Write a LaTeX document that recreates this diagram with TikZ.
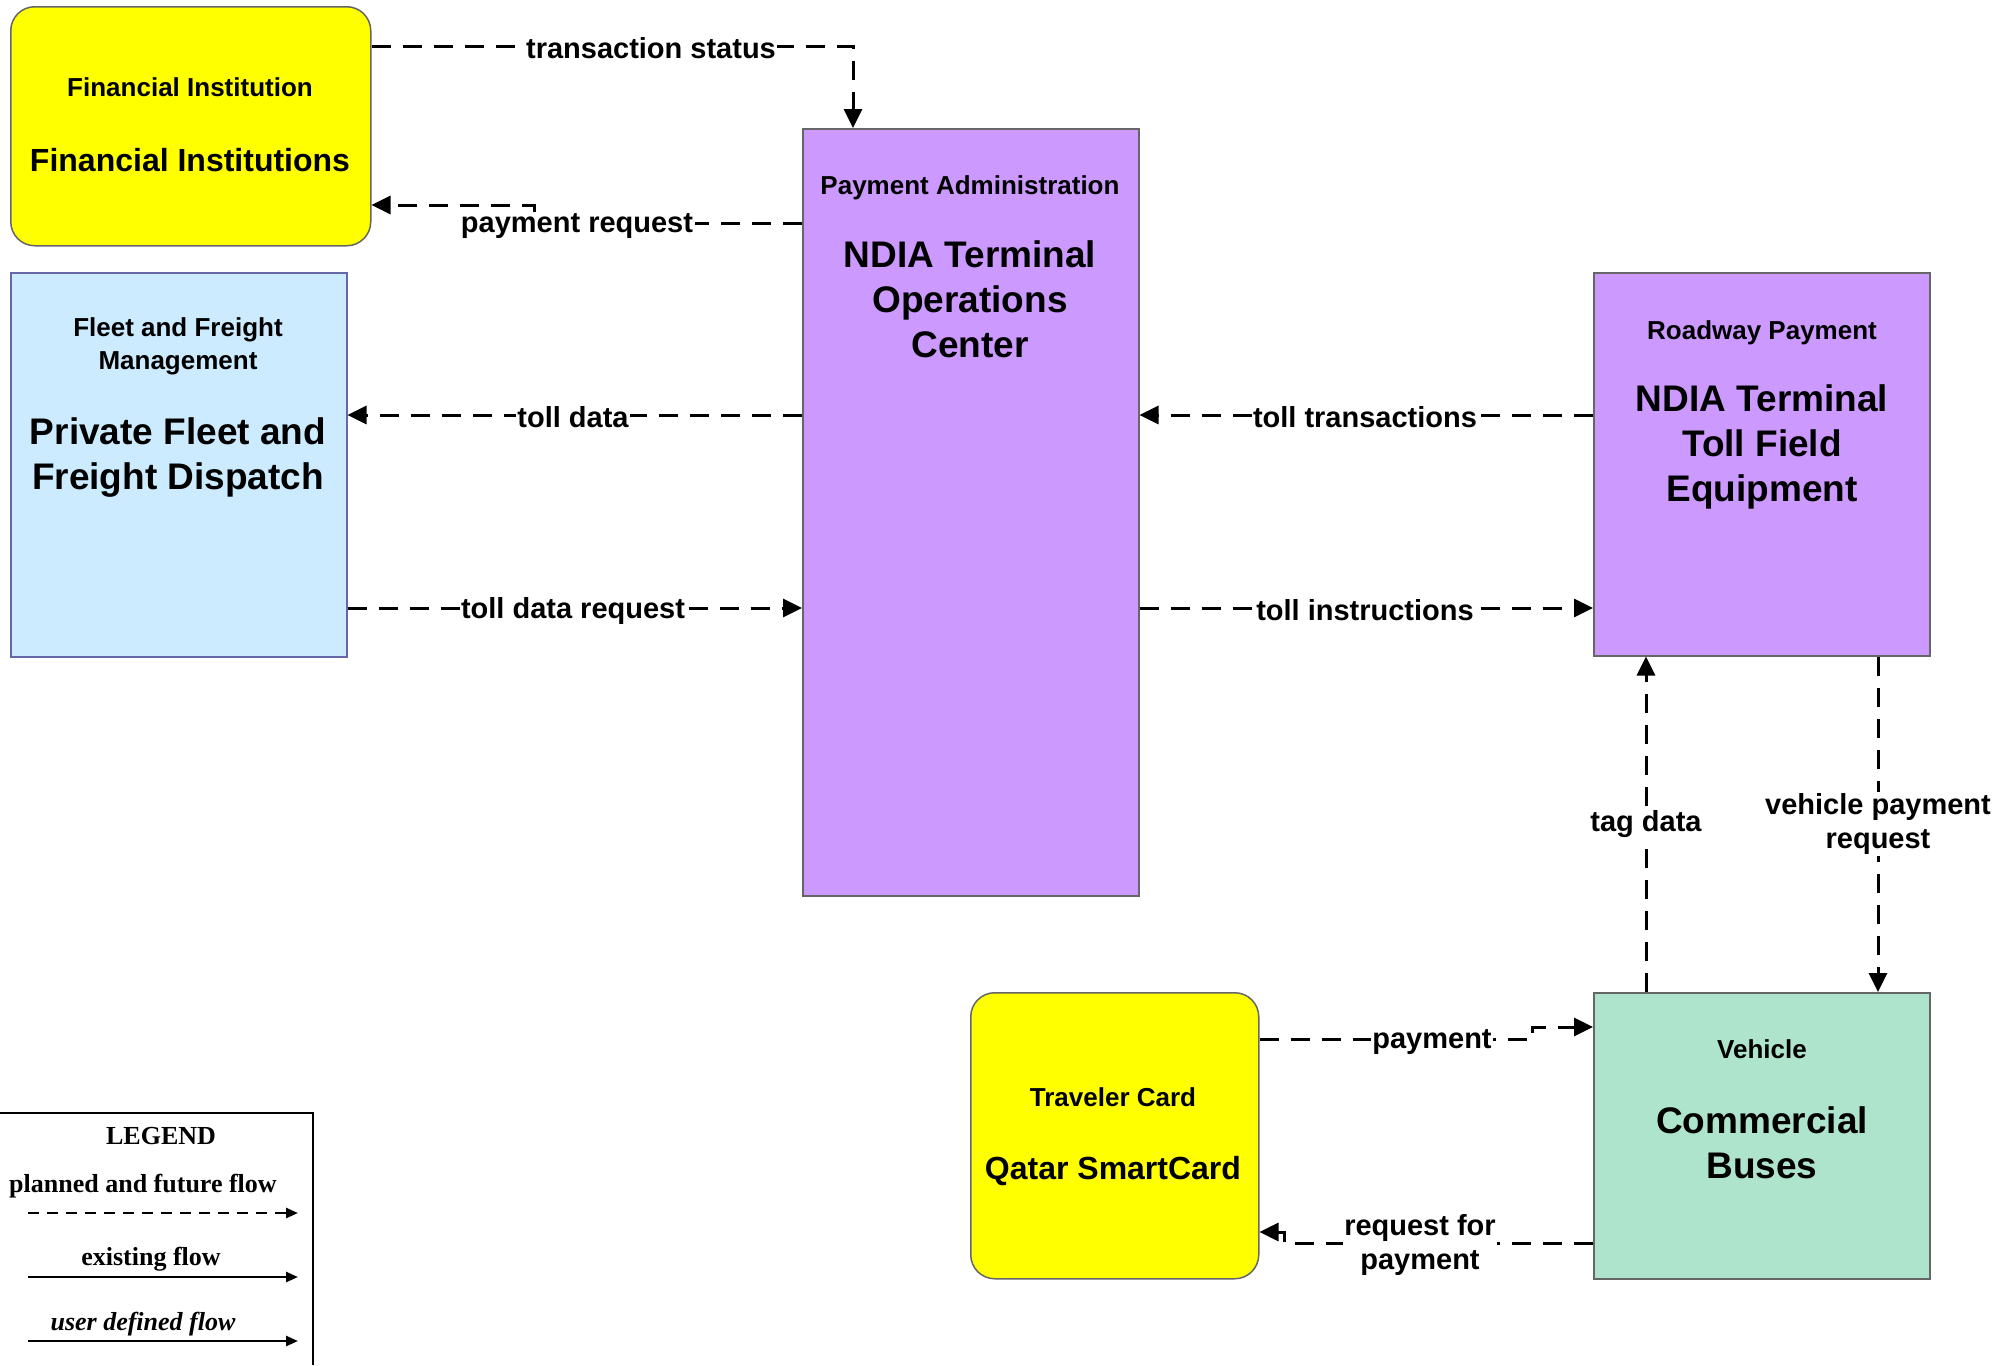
\documentclass[tikz,border=0pt]{standalone}
\usepackage{fontspec}
\setmainfont{Liberation Sans}
\newfontfamily\legfont{Liberation Serif}
\usetikzlibrary{arrows.meta,calc}
\definecolor{fiyellow}{HTML}{FFFF00}
\definecolor{fleetblue}{HTML}{CCEBFF}
\definecolor{ndiapurple}{HTML}{CC99FF}
\definecolor{vehgreen}{HTML}{AEE4CB}
\begin{document}
\begin{tikzpicture}[x=1pt,y=-1pt,
 box/.style={draw=black!60, line width=1.5pt, anchor=north west, inner sep=0pt},
 flow/.style={line width=3pt, dash pattern=on 19pt off 12pt, -{Triangle[length=19pt,width=18pt]}},
 lbl/.style={fill=white, inner sep=1.5pt, font=\fontsize{29}{34}\selectfont\bfseries, align=center},
 smalltxt/.style={font=\fontsize{26}{33}\selectfont\bfseries, align=center},
 bigtxt/.style={font=\fontsize{37}{45}\selectfont\bfseries, align=center},
 midtxt/.style={font=\fontsize{32}{40}\selectfont\bfseries, align=center},
 legtxt/.style={font=\legfont\fontsize{26}{30}\selectfont\bfseries, inner sep=0pt},
 legarrow/.style={line width=2.5pt, -{Triangle[length=12pt,width=10pt]}},
]
\useasboundingbox (0,0) rectangle (2002,1365);

% boxes
\node[box, fill=fiyellow, rounded corners=24pt, minimum width=360pt, minimum height=239pt] (fi) at (10,6) {};
\node[box, fill=fleetblue, draw=black!55!blue!60, minimum width=336pt, minimum height=384pt] (fleet) at (10,272) {};
\node[box, fill=ndiapurple, minimum width=336pt, minimum height=767pt] (pa) at (802,128) {};
\node[box, fill=ndiapurple, minimum width=336pt, minimum height=383pt] (rw) at (1593,272) {};
\node[box, fill=fiyellow, rounded corners=24pt, minimum width=288pt, minimum height=286pt] (tc) at (970,992) {};
\node[box, fill=vehgreen, minimum width=336pt, minimum height=286pt] (veh) at (1593,992) {};

% box texts
\node[smalltxt] (fit1) at (190,87) {Financial Institution};
\node[midtxt] (fit2) at (190,160) {Financial Institutions};
\node[smalltxt] (flt1) at (178,346) {Fleet and Freight\\Management};
\node[bigtxt] (flt2) at (178,458) {Private Fleet and\\Freight Dispatch};
\node[smalltxt] (pat1) at (970,188) {Payment Administration};
\node[bigtxt] (pat2) at (970,299) {NDIA Terminal\\Operations\\Center};
\node[smalltxt] (rwt1) at (1762,333) {Roadway Payment};
\node[bigtxt] (rwt2) at (1762,447) {NDIA Terminal\\Toll Field\\Equipment};
\node[smalltxt] (tct1) at (1113,1097) {Traveler Card};
\node[midtxt] (tct2) at (1113,1171) {Qatar SmartCard};
\node[smalltxt] (vht1) at (1762,1049) {Vehicle};
\node[bigtxt] (vht2) at (1762,1143) {Commercial\\Buses};

% connectors
\draw[flow] ($(fi.north east)+(0,40)$) -| ($(pa.north west)+(51,0)$);
\draw[flow] ($(pa.north west)+(0,95)$) -- (534,223) -- (534,205) -- ($(fi.north east)+(0,199)$);
\draw[flow] ($(pa.north west)+(0,287)$) -- ($(fleet.north east)+(0,143)$);
\draw[flow] ($(fleet.north east)+(0,336)$) -- ($(pa.north west)+(0,480)$);
\draw[flow] ($(rw.north west)+(0,143)$) -- ($(pa.north east)+(0,287)$);
\draw[flow] ($(pa.north east)+(0,480)$) -- ($(rw.north west)+(0,336)$);
\draw[flow] ($(veh.north west)+(53,0)$) -- ($(rw.south west)+(53,0)$);
\draw[flow] ($(rw.south west)+(285,0)$) -- ($(veh.north west)+(285,0)$);
\draw[flow] ($(tc.north east)+(0,47)$) -- (1532,1039) -- (1532,1027) -- ($(veh.north west)+(0,35)$);
\draw[flow] ($(veh.north west)+(0,251)$) -- (1284,1243) -- (1284,1232) -- ($(tc.north east)+(0,240)$);

% connector labels
\node[lbl] (l1) at (651,48) {transaction status};
\node[lbl] (l2) at (577,226) {payment request};
\node[lbl] (l3) at (573,417) {toll data};
\node[lbl] (l4) at (573,611) {toll data request};
\node[lbl] (l5) at (1365,417) {toll transactions};
\node[lbl] (l6) at (1365,610) {toll instructions};
\node[lbl] (l7) at (1646,824) {tag data};
\node[lbl] (l8) at (1878,824) {vehicle payment\\request};
\node[lbl] (l9) at (1432,1042) {payment};
\node[lbl] (l10) at (1420,1245) {request for\\payment};

% legend
\coordinate (lgA) at (0,1113);
\coordinate (lgB) at (313,1113);
\coordinate (lgC) at (313,1365);
\draw[line width=2.5pt] (lgA) -- (lgB) -- (lgC);
\node[legtxt] (lg0) at (161,1136) {LEGEND};
\node[legtxt] (lg1) at (143,1186) {planned and future flow};
\node[legtxt] (lg2) at (151,1259) {existing flow};
\node[legtxt] (lg3) at (143,1324) {\itshape user defined flow};
\coordinate (la1) at (28,1213); \coordinate (lb1) at (298,1213);
\coordinate (la2) at (28,1277); \coordinate (lb2) at (298,1277);
\coordinate (la3) at (28,1341); \coordinate (lb3) at (298,1341);
\draw[legarrow, dash pattern=on 11pt off 8pt] (la1) -- (lb1);
\draw[legarrow] (la2) -- (lb2);
\draw[legarrow] (la3) -- (lb3);
\end{tikzpicture}
\end{document}
